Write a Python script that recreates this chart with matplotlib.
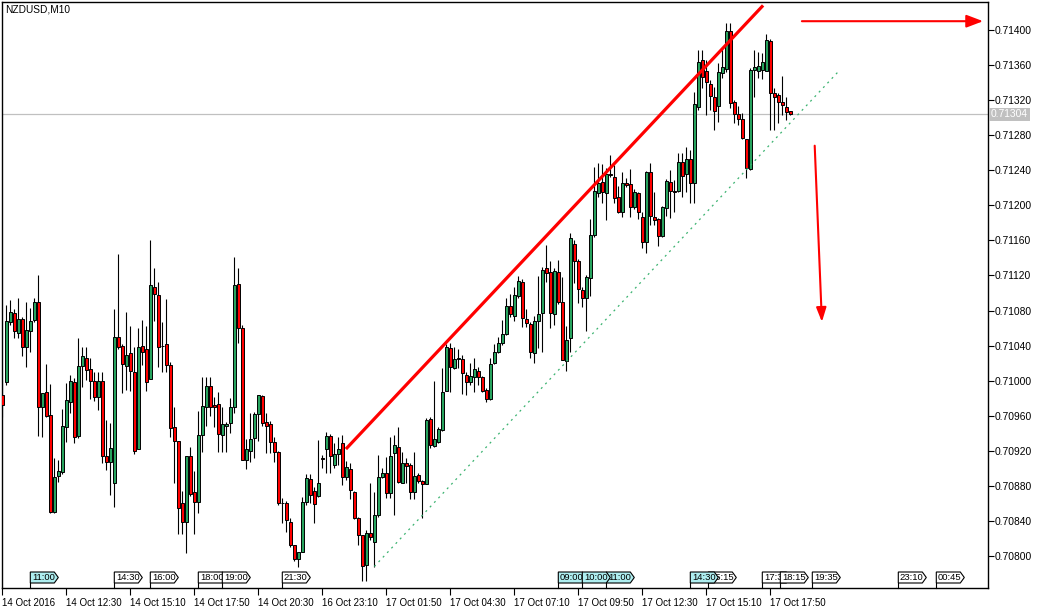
import matplotlib
matplotlib.use("Agg")
import matplotlib.pyplot as plt
import matplotlib.transforms as mtransforms
from matplotlib.patches import Polygon

# ---------------- data ----------------
chart_title = "NZDUSD,M10"

opens = [0.70984, 0.70998, 0.71067, 0.71077, 0.71054, 0.71070, 0.71038, 0.71057, 0.71069, 0.71090,
         0.70970, 0.70987, 0.70961, 0.70850, 0.70891, 0.70896, 0.70947, 0.70976, 0.70998, 0.70937,
         0.71017, 0.71026, 0.71013, 0.71000, 0.70981, 0.71000, 0.70914, 0.70907, 0.70883, 0.71050,
         0.71040, 0.71017, 0.71032, 0.71010, 0.70922, 0.71040, 0.71036, 0.71002, 0.71107, 0.71098,
         0.71040, 0.71042, 0.71018, 0.70947, 0.70931, 0.70860, 0.70839, 0.70914, 0.70873, 0.70862,
         0.70938, 0.70970, 0.70994, 0.70972, 0.70973, 0.70938, 0.70948, 0.70952, 0.70970, 0.71110,
         0.71060, 0.70910, 0.70920, 0.70935, 0.70962, 0.70983, 0.70953, 0.70950, 0.70930, 0.70919,
         0.70861, 0.70861, 0.70839, 0.70812, 0.70797, 0.70804, 0.70862, 0.70888, 0.70874, 0.70868,
         0.70912, 0.70922, 0.70937, 0.70904, 0.70916, 0.70929, 0.70890, 0.70899, 0.70873, 0.70843,
         0.70824, 0.70790, 0.70826, 0.70816, 0.70847, 0.70890, 0.70895, 0.70872, 0.70917, 0.70924,
         0.70883, 0.70906, 0.70904, 0.70873, 0.70892, 0.70886, 0.70882, 0.70956, 0.70926, 0.70930,
         0.70944, 0.70988, 0.71037, 0.71015, 0.71025, 0.71025, 0.71006, 0.70998, 0.71004, 0.71011,
         0.71004, 0.70989, 0.70979, 0.71020, 0.71033, 0.71043, 0.71053, 0.71085, 0.71074, 0.71096,
         0.71113, 0.71070, 0.71065, 0.71032, 0.71068, 0.71077, 0.71128, 0.71124, 0.71076, 0.71124,
         0.71090, 0.71022, 0.71049, 0.71156, 0.71137, 0.71103, 0.71094, 0.71117, 0.71166, 0.71214,
         0.71227, 0.71214, 0.71236, 0.71232, 0.71210, 0.71192, 0.71226, 0.71224, 0.71198, 0.71214,
         0.71187, 0.71158, 0.71238, 0.71187, 0.71184, 0.71165, 0.71197, 0.71227, 0.71216, 0.71216,
         0.71249, 0.71236, 0.71253, 0.71226, 0.71312, 0.71366, 0.71353, 0.71338, 0.71324, 0.71313,
         0.71351, 0.71356, 0.71399, 0.71318, 0.71304, 0.71299, 0.71276, 0.71241, 0.71354, 0.71353,
         0.71354, 0.71353, 0.71387, 0.71328, 0.71326, 0.71318, 0.71312, 0.71308]

highs = [0.71001, 0.71086, 0.71092, 0.71082, 0.71094, 0.71073, 0.71090, 0.71083, 0.71094, 0.71120,
         0.70986, 0.71019, 0.70996, 0.70912, 0.70910, 0.70968, 0.70997, 0.71006, 0.71003, 0.71049,
         0.71038, 0.71038, 0.71026, 0.71010, 0.71010, 0.71010, 0.70955, 0.70952, 0.71082, 0.71144,
         0.71042, 0.71078, 0.71062, 0.71038, 0.71060, 0.71069, 0.71062, 0.71160, 0.71128, 0.71113,
         0.71067, 0.71093, 0.71021, 0.70970, 0.70931, 0.70874, 0.70914, 0.70924, 0.70897, 0.70965,
         0.71004, 0.71004, 0.71004, 0.70981, 0.70987, 0.70970, 0.70953, 0.70980, 0.71141, 0.71128,
         0.71064, 0.70933, 0.70963, 0.70964, 0.70984, 0.70984, 0.70963, 0.70954, 0.70936, 0.70920,
         0.70866, 0.70863, 0.70843, 0.70813, 0.70805, 0.70867, 0.70893, 0.70893, 0.70879, 0.70932,
         0.70915, 0.70941, 0.70939, 0.70929, 0.70936, 0.70938, 0.70908, 0.70906, 0.70874, 0.70845,
         0.70824, 0.70830, 0.70883, 0.70873, 0.70915, 0.70900, 0.70913, 0.70936, 0.70938, 0.70947,
         0.70919, 0.70912, 0.70906, 0.70919, 0.70895, 0.70887, 0.70957, 0.70959, 0.71000, 0.70947,
         0.71014, 0.71042, 0.71043, 0.71038, 0.71036, 0.71029, 0.71010, 0.71020, 0.71026, 0.71016,
         0.71005, 0.70992, 0.71026, 0.71042, 0.71050, 0.71069, 0.71094, 0.71099, 0.71107, 0.71119,
         0.71116, 0.71082, 0.71067, 0.71074, 0.71119, 0.71130, 0.71155, 0.71137, 0.71128, 0.71138,
         0.71118, 0.71062, 0.71168, 0.71160, 0.71139, 0.71107, 0.71121, 0.71184, 0.71244, 0.71248,
         0.71247, 0.71243, 0.71257, 0.71246, 0.71222, 0.71238, 0.71231, 0.71241, 0.71219, 0.71215,
         0.71192, 0.71239, 0.71248, 0.71215, 0.71186, 0.71199, 0.71230, 0.71240, 0.71229, 0.71260,
         0.71260, 0.71266, 0.71263, 0.71329, 0.71377, 0.71377, 0.71366, 0.71343, 0.71335, 0.71362,
         0.71380, 0.71408, 0.71408, 0.71320, 0.71313, 0.71305, 0.71276, 0.71357, 0.71377, 0.71375,
         0.71374, 0.71395, 0.71390, 0.71334, 0.71328, 0.71348, 0.71324, 0.71308]

lows = [0.70959, 0.70995, 0.71063, 0.71049, 0.71049, 0.71028, 0.71016, 0.71033, 0.71067, 0.70937,
        0.70936, 0.70959, 0.70849, 0.70849, 0.70884, 0.70894, 0.70930, 0.70963, 0.70929, 0.70935,
        0.70993, 0.71001, 0.70979, 0.70977, 0.70967, 0.70906, 0.70898, 0.70870, 0.70856, 0.71036,
        0.70986, 0.70989, 0.70988, 0.70916, 0.70922, 0.71018, 0.70988, 0.71002, 0.71068, 0.71016,
        0.71010, 0.71010, 0.70936, 0.70883, 0.70825, 0.70825, 0.70803, 0.70868, 0.70825, 0.70849,
        0.70919, 0.70948, 0.70960, 0.70947, 0.70919, 0.70919, 0.70919, 0.70940, 0.70963, 0.71043,
        0.70909, 0.70899, 0.70907, 0.70912, 0.70931, 0.70948, 0.70917, 0.70917, 0.70907, 0.70858,
        0.70838, 0.70827, 0.70810, 0.70794, 0.70788, 0.70804, 0.70858, 0.70860, 0.70838, 0.70867,
        0.70900, 0.70895, 0.70895, 0.70900, 0.70904, 0.70881, 0.70887, 0.70865, 0.70842, 0.70813,
        0.70771, 0.70771, 0.70818, 0.70788, 0.70845, 0.70889, 0.70866, 0.70866, 0.70847, 0.70883,
        0.70883, 0.70883, 0.70865, 0.70865, 0.70883, 0.70843, 0.70882, 0.70923, 0.70924, 0.70929,
        0.70943, 0.70988, 0.70987, 0.71013, 0.71014, 0.70985, 0.70984, 0.70995, 0.70987, 0.70995,
        0.70987, 0.70976, 0.70978, 0.71019, 0.71032, 0.71041, 0.71052, 0.71073, 0.71068, 0.71094,
        0.71061, 0.71061, 0.71026, 0.71020, 0.71037, 0.71033, 0.71113, 0.71060, 0.71064, 0.71087,
        0.71024, 0.71011, 0.71033, 0.71111, 0.71089, 0.71084, 0.71057, 0.71097, 0.71164, 0.71210,
        0.71203, 0.71183, 0.71232, 0.71203, 0.71191, 0.71187, 0.71221, 0.71187, 0.71196, 0.71184,
        0.71151, 0.71146, 0.71178, 0.71178, 0.71154, 0.71164, 0.71188, 0.71186, 0.71192, 0.71215,
        0.71210, 0.71215, 0.71203, 0.71203, 0.71309, 0.71334, 0.71303, 0.71309, 0.71286, 0.71295,
        0.71345, 0.71352, 0.71311, 0.71294, 0.71292, 0.71276, 0.71231, 0.71240, 0.71324, 0.71345,
        0.71344, 0.71353, 0.71286, 0.71286, 0.71294, 0.71303, 0.71297, 0.71303]

closes = [0.70972, 0.71068, 0.71078, 0.71057, 0.71070, 0.71038, 0.71058, 0.71068, 0.71090, 0.70970,
          0.70986, 0.70960, 0.70850, 0.70890, 0.70897, 0.70948, 0.70978, 0.71000, 0.70936, 0.71017,
          0.71028, 0.71012, 0.71000, 0.70981, 0.71000, 0.70914, 0.70907, 0.70923, 0.71050, 0.71038,
          0.71019, 0.71029, 0.71011, 0.70920, 0.71038, 0.71033, 0.70998, 0.71109, 0.71099, 0.71038,
          0.71039, 0.71018, 0.70946, 0.70931, 0.70855, 0.70839, 0.70914, 0.70871, 0.70862, 0.70938,
          0.70971, 0.70994, 0.70970, 0.70970, 0.70939, 0.70950, 0.70951, 0.70970, 0.71109, 0.71060,
          0.70910, 0.70922, 0.70933, 0.70962, 0.70984, 0.70952, 0.70948, 0.70930, 0.70919, 0.70860,
          0.70860, 0.70841, 0.70813, 0.70797, 0.70805, 0.70862, 0.70889, 0.70870, 0.70859, 0.70883,
          0.70911, 0.70937, 0.70914, 0.70916, 0.70922, 0.70890, 0.70902, 0.70875, 0.70843, 0.70824,
          0.70789, 0.70826, 0.70822, 0.70847, 0.70890, 0.70895, 0.70872, 0.70914, 0.70927, 0.70884,
          0.70906, 0.70903, 0.70873, 0.70891, 0.70886, 0.70882, 0.70955, 0.70927, 0.70934, 0.70945,
          0.70987, 0.71038, 0.71016, 0.71025, 0.71026, 0.71009, 0.70998, 0.71005, 0.71013, 0.71004,
          0.70988, 0.70979, 0.71019, 0.71033, 0.71043, 0.71053, 0.71085, 0.71076, 0.71098, 0.71114,
          0.71071, 0.71066, 0.71033, 0.71068, 0.71076, 0.71126, 0.71123, 0.71077, 0.71125, 0.71090,
          0.71024, 0.71046, 0.71163, 0.71137, 0.71105, 0.71094, 0.71118, 0.71166, 0.71216, 0.71226,
          0.71215, 0.71236, 0.71235, 0.71208, 0.71192, 0.71226, 0.71223, 0.71198, 0.71215, 0.71192,
          0.71158, 0.71238, 0.71188, 0.71183, 0.71165, 0.71198, 0.71228, 0.71216, 0.71215, 0.71249,
          0.71234, 0.71253, 0.71226, 0.71316, 0.71364, 0.71346, 0.71341, 0.71325, 0.71308, 0.71352,
          0.71358, 0.71399, 0.71317, 0.71304, 0.71299, 0.71277, 0.71243, 0.71354, 0.71358, 0.71359,
          0.71364, 0.71389, 0.71328, 0.71324, 0.71318, 0.71314, 0.71307, 0.71304]

time_tick_bars = [0, 16, 32, 48, 64, 80, 96, 112, 128, 144, 160, 176, 192]
time_tick_labels = ["14 Oct 2016", "14 Oct 12:30", "14 Oct 15:10", "14 Oct 17:50",
                    "14 Oct 20:30", "16 Oct 23:10", "17 Oct 01:50", "17 Oct 04:30",
                    "17 Oct 07:10", "17 Oct 09:50", "17 Oct 12:30", "17 Oct 15:10",
                    "17 Oct 17:50"]
price_ticks = [0.70800, 0.70840, 0.70880, 0.70920, 0.70960, 0.71000, 0.71040, 0.71080,
               0.71120, 0.71160, 0.71200, 0.71240, 0.71280, 0.71320, 0.71360, 0.71400]
last_price = 0.71304

# calendar events: label, bar position, highlighted, drawing layer
event_labels = ["11:00", "14:30", "16:00", "18:00", "19:00", "21:30",
                "09:00", "10:00", "11:00", "14:30", "15:15", "17:30", "18:15",
                "19:35", "23:10", "00:45"]
event_bars = [7, 28, 37, 49, 55, 70, 139, 145, 151, 172, 176.5, 190, 194.5, 202.5, 224, 233.5]
event_highlight = [True, False, False, False, False, False,
                   True, True, True, True, False, False, False, False, False, False]
event_layer = [5, 5, 5, 5, 7, 5, 5, 7, 5, 7, 5, 5, 7, 5, 5, 5]

# analysis drawings (bar index, price)
red_trend = ((85.9, 0.70922), (190.2, 0.71428))
green_channel = ((93.0, 0.70788), (208.9, 0.71352))
arrow_right = ((199.9, 0.71410), (245.2, 0.71410))
arrow_down = ((203.1, 0.71268), (204.9, 0.71067))

# ---------------- figure ----------------
W, H = 1041, 609
fig = plt.figure(figsize=(W / 100, H / 100), dpi=100)
ax_left, ax_right, ax_top, ax_bottom = 2, 988, 2, 588
ax = fig.add_axes([ax_left / W, 1 - ax_bottom / H,
                   (ax_right - ax_left) / W, (ax_bottom - ax_top) / H])
ax.set_autoscale_on(False)
ax_w_px = ax_right - ax_left
ax_h_px = ax_bottom - ax_top

xlim = (-0.075, -0.075 + ax_w_px / 4.0)
ylim = (0.707635, 0.714319)
ax.set_xlim(*xlim)
ax.set_ylim(*ylim)

font = "Liberation Sans"
bull = "#27a35e"
bear = "#ff0000"

n = len(opens)
xs = list(range(n))
# wicks
ax.vlines(xs, lows, highs, color="black", lw=0.8, zorder=2)
# bodies
bottoms = [min(o, c) for o, c in zip(opens, closes)]
heights = [abs(c - o) for o, c in zip(opens, closes)]
colors = [bull if c > o else (bear if c < o else "black") for o, c in zip(opens, closes)]
ax.bar(xs, heights, bottom=bottoms, width=0.72, color=colors,
       edgecolor="black", linewidth=0.7, zorder=3)

# last price line
ax.axhline(last_price, color="#c0c0c0", lw=0.9, zorder=1)

# trend lines
ax.plot([red_trend[0][0], red_trend[1][0]], [red_trend[0][1], red_trend[1][1]],
        color="#ff0000", lw=2.3, solid_capstyle="butt", zorder=6, clip_on=False)
ax.plot([green_channel[0][0], green_channel[1][0]], [green_channel[0][1], green_channel[1][1]],
        color="#3cb371", lw=0.9, linestyle=(0, (1.6, 3.4)), zorder=6)

# arrows
ax.annotate("", xy=arrow_right[1], xytext=arrow_right[0],
            arrowprops=dict(arrowstyle="-|>,head_length=1.0,head_width=0.38",
                            color="#ff0000", lw=1.5, shrinkA=0, shrinkB=0),
            annotation_clip=False, zorder=6)
ax.annotate("", xy=arrow_down[1], xytext=arrow_down[0],
            arrowprops=dict(arrowstyle="-|>,head_length=0.85,head_width=0.3",
                            color="#ff0000", lw=1.5, shrinkA=0, shrinkB=0),
            annotation_clip=False, zorder=6)

# spines
for s in ax.spines.values():
    s.set_color("black")
    s.set_linewidth(1.0)

# y axis on the right
ax.yaxis.tick_right()
ax.set_yticks(price_ticks)
ax.set_yticklabels([f"{v:.5f}" for v in price_ticks], fontsize=7.4, family=font)
ax.tick_params(axis="y", direction="out", length=4, width=0.8, pad=1, colors="black")

# x axis
ax.set_xticks(time_tick_bars)
ax.set_xticklabels(time_tick_labels, fontsize=7.0, family=font)
for lbl in ax.get_xticklabels():
    lbl.set_horizontalalignment("left")
ax.tick_params(axis="x", direction="out", length=5, width=0.8, pad=2, colors="black")

# last price tag
trans_ya = mtransforms.blended_transform_factory(ax.transAxes, ax.transData)
ax.text(1 + 3 / ax_w_px, last_price, f"{last_price:.5f}", transform=trans_ya,
        fontsize=7.4, family=font, color="white", va="center", ha="left",
        bbox=dict(boxstyle="square,pad=0.15", facecolor="#c0c0c0", edgecolor="none"),
        clip_on=False, zorder=10)

# title
fig.text(5 / W, 1 - 10 / H, chart_title, fontsize=7.3, family=font, va="center", ha="left")

# event boxes
trans_xa = mtransforms.blended_transform_factory(ax.transData, ax.transAxes)
dx = (xlim[1] - xlim[0]) / ax_w_px
dy = 1.0 / ax_h_px
yb, yt = 5 * dy, 16 * dy
for lab, pos, hl, z in zip(event_labels, event_bars, event_highlight, event_layer):
    w = 24 * dx
    pt = 4 * dx
    poly = Polygon([(pos, yb), (pos + w, yb), (pos + w + pt, (yb + yt) / 2),
                    (pos + w, yt), (pos, yt)], closed=True, transform=trans_xa,
                   facecolor="#aeeef0" if hl else "white", edgecolor="black",
                   lw=0.8, zorder=z, clip_on=False)
    ax.add_patch(poly)
    ax.plot([pos, pos], [0, yb], transform=trans_xa, color="black", lw=0.8,
            zorder=z, clip_on=False)
    ax.text(pos + 1.5 * dx, (yb + yt) / 2, lab, transform=trans_xa, fontsize=6.8,
            family=font, va="center", ha="left", zorder=z + 0.1, clip_on=False)

ax.set_xlim(*xlim)
ax.set_ylim(*ylim)
fig.savefig("out.png", dpi=100, facecolor="white")
